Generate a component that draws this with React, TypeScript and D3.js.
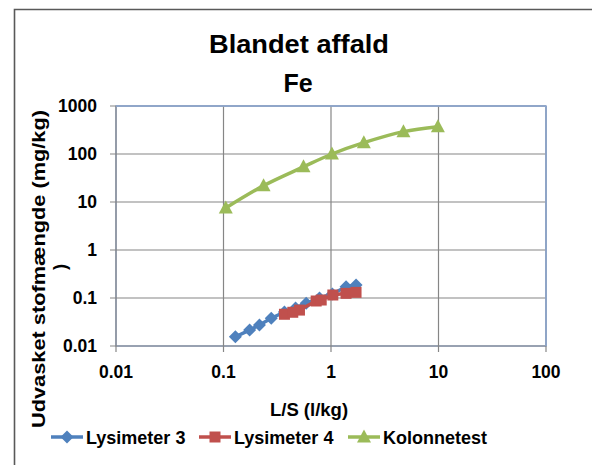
import React from "react";
import * as d3 from "d3";

const title1 = "Blandet affald";
const title2 = "Fe";
const xTitle = "L/S (l/kg)";
const yTitle = "Udvasket stofmængde (mg/kg)";
const yTitle2 = ")";

const xTicks = [0.01, 0.1, 1, 10, 100];
const xTickLabels = ["0.01", "0.1", "1", "10", "100"];
const yTicks = [0.01, 0.1, 1, 10, 100, 1000];
const yTickLabels = ["0.01", "0.1", "1", "10", "100", "1000"];

const lys3X = [0.129, 0.175, 0.216, 0.278, 0.369, 0.468, 0.588, 0.782, 1.03, 1.38, 1.71];
const lys3Y = [0.0156, 0.0215, 0.0274, 0.0378, 0.051, 0.062, 0.0776, 0.1, 0.121, 0.172, 0.187];
const lys4X = [0.369, 0.441, 0.509, 0.728, 0.811, 1.04, 1.38, 1.71];
const lys4Y = [0.0458, 0.0504, 0.056, 0.0866, 0.0908, 0.1155, 0.125, 0.131];
const kolX = [0.105, 0.236, 0.555, 1.02, 2.02, 4.72, 9.87];
const kolY = [7.5, 21.9, 54, 100, 172, 292, 370];

const seriesNames = ["Lysimeter 3", "Lysimeter 4", "Kolonnetest"];
const seriesColors = ["#4F81BD", "#C0504D", "#9BBB59"];

const FONT = "'Liberation Sans', Arial, sans-serif";

function marker(kind: string) {
  if (kind === "diamond") return "M0,-6.5L6.5,0L0,6.5L-6.5,0Z";
  if (kind === "square") return "M-5.5,-5.5L5.5,-5.5L5.5,5.5L-5.5,5.5Z";
  return "M0,-7.5L7,5.5L-7,5.5Z";
}

export default function App() {
  const x = d3.scaleLog().domain([0.01, 100]).range([116, 546]);
  const y = d3.scaleLog().domain([0.01, 1000]).range([346, 106]);

  const series = [
    { xs: lys3X, ys: lys3Y, kind: "diamond", curve: d3.curveLinear },
    { xs: lys4X, ys: lys4Y, kind: "square", curve: d3.curveLinear },
    { xs: kolX, ys: kolY, kind: "triangle", curve: d3.curveCatmullRom.alpha(0.5) },
  ];

  const legendItems = [
    { x0: 51, tx: 86 },
    { x0: 199, tx: 234 },
    { x0: 348, tx: 383 },
  ];

  return (
    <svg
      width={592}
      height={465}
      style={{ position: "absolute", left: 0, top: 0, background: "#fff" }}
      fontFamily={FONT}
    >
      <rect x={0} y={0} width={592} height={465} fill="#fff" />
      {/* outer chart border */}
      <path d="M14.5,470 L14.5,9.5 L600,9.5" fill="none" stroke="#595959" strokeWidth={1.6} />

      {/* title */}
      <text x={299} y={53} textAnchor="middle" fontSize={25} fontWeight="bold" textLength={180} lengthAdjust="spacingAndGlyphs">
        {title1}
      </text>
      <text x={298} y={92} textAnchor="middle" fontSize={25} fontWeight="bold">
        {title2}
      </text>

      {/* plot area border */}
      <rect x={116} y={106} width={430} height={240} fill="none" stroke="#8EA8D2" strokeWidth={1.5} />

      {/* gridlines */}
      {yTicks.map((t) => (
        <line key={"gy" + t} x1={110} x2={546} y1={y(t)} y2={y(t)} stroke="#868686" strokeWidth={1.2} />
      ))}
      {xTicks.map((t) => (
        <line key={"gx" + t} x1={x(t)} x2={x(t)} y1={106} y2={352} stroke="#868686" strokeWidth={1.2} />
      ))}
      <line x1={546} x2={546} y1={106} y2={346} stroke="#8EA8D2" strokeWidth={1.5} />
      <line x1={116} x2={546} y1={106} y2={106} stroke="#8EA8D2" strokeWidth={1.5} />

      {/* tick labels */}
      {yTicks.map((t, i) => (
        <text key={"ly" + t} x={97} y={y(t) + 6} textAnchor="end" fontSize={17.5} fontWeight="bold">
          {yTickLabels[i]}
        </text>
      ))}
      {xTicks.map((t, i) => (
        <text key={"lx" + t} x={x(t)} y={378} textAnchor="middle" fontSize={17.5} fontWeight="bold">
          {xTickLabels[i]}
        </text>
      ))}

      {/* axis titles */}
      <text x={309} y={416} textAnchor="middle" fontSize={18.5} fontWeight="bold">
        {xTitle}
      </text>
      <text
        transform="translate(45,269) rotate(-90)"
        textAnchor="middle"
        fontSize={18.5}
        fontWeight="bold"
        textLength={318}
        lengthAdjust="spacingAndGlyphs"
      >
        {yTitle}
      </text>
      <text transform="translate(66,267) rotate(-90)" textAnchor="middle" fontSize={18.5} fontWeight="bold">
        {yTitle2}
      </text>

      {/* series */}
      {series.map((s, si) => {
        const pts = s.xs.map((v, i) => [x(v), y(s.ys[i])] as [number, number]);
        const line = d3.line().curve(s.curve)(pts) || "";
        return (
          <g key={"s" + si}>
            <path d={line} fill="none" stroke={seriesColors[si]} strokeWidth={3.5} strokeLinejoin="round" />
            {pts.map((p, i) => (
              <path key={i} d={marker(s.kind)} transform={`translate(${p[0]},${p[1]})`} fill={seriesColors[si]} />
            ))}
          </g>
        );
      })}

      {/* legend */}
      {legendItems.map((l, i) => (
        <g key={"lg" + i}>
          <line x1={l.x0} x2={l.x0 + 32} y1={437} y2={437} stroke={seriesColors[i]} strokeWidth={3.5} />
          <path d={marker(series[i].kind)} transform={`translate(${l.x0 + 16},437)`} fill={seriesColors[i]} />
          <text x={l.tx} y={444} fontSize={18} fontWeight="bold">
            {seriesNames[i]}
          </text>
        </g>
      ))}
    </svg>
  );
}
